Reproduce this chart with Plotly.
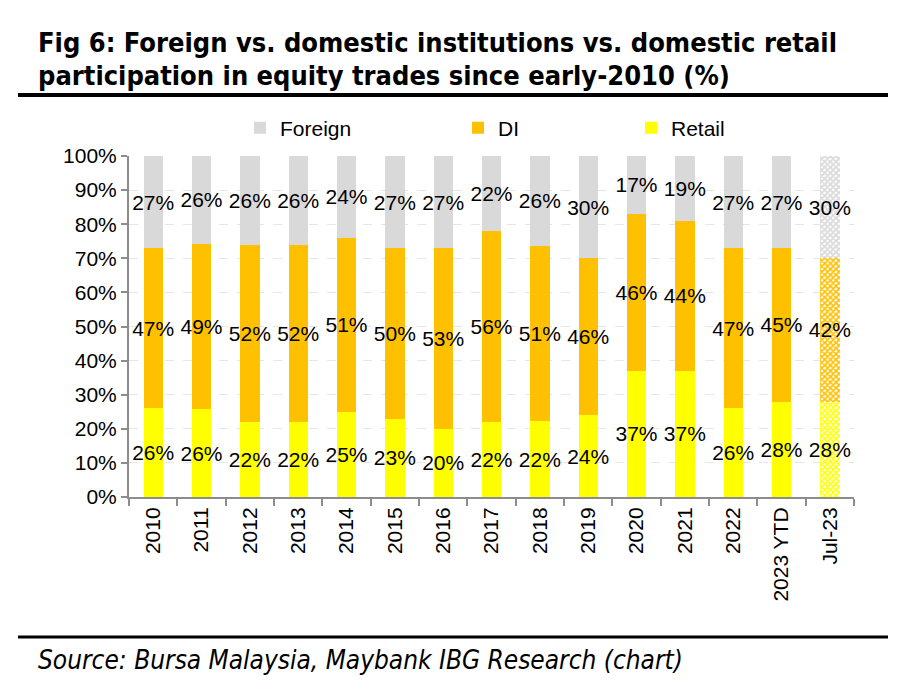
import plotly.graph_objects as go

categories = ["2010", "2011", "2012", "2013", "2014", "2015", "2016", "2017",
              "2018", "2019", "2020", "2021", "2022", "2023 YTD", "Jul-23"]
retail = [26, 26, 22, 22, 25, 23, 20, 22, 22, 24, 37, 37, 26, 28, 28]
di = [47, 49, 52, 52, 51, 50, 53, 56, 51, 46, 46, 44, 47, 45, 42]
foreign = [27, 26, 26, 26, 24, 27, 27, 22, 26, 30, 17, 19, 27, 27, 30]
series_names = ["Retail", "DI", "Foreign"]
series_colors = {"Retail": "#FFFF00", "DI": "#FFC000", "Foreign": "#D9D9D9"}
y_ticks = [0, 10, 20, 30, 40, 50, 60, 70, 80, 90, 100]

W, H = 911, 691
L, R, T, B = 129, 854, 156, 497
SANS = "Liberation Sans, Arial, sans-serif"
TITLEF = "DejaVu Sans Condensed, DejaVu Sans, sans-serif"
FS = 21


def px2x(px):
    return (px - L) / (R - L)


def px2y(py):
    return (B - py) / (B - T)


fig = go.Figure()
values = {"Retail": retail, "DI": di, "Foreign": foreign}
legend_ids = {"Foreign": "legend", "DI": "legend2", "Retail": "legend3"}
n = len(categories)
for name in series_names:
    vals = values[name]
    col = series_colors[name]
    fig.add_trace(go.Bar(
        x=categories, y=vals, name=name,
        text=[f"{v}%" for v in vals],
        textposition="inside", insidetextanchor="middle", textangle=0,
        textfont=dict(family=SANS, size=FS, color="black"),
        width=0.4,
        marker=dict(
            color=col, line=dict(width=0),
            pattern=dict(shape=[""] * (n - 1) + ["x"], fgcolor=col,
                         bgcolor="white", fillmode="replace", size=4, solidity=0.65),
        ),
        legend=legend_ids[name],
    ))

legend_pos = {"legend": 262, "legend2": 480, "legend3": 653}
leg_common = dict(orientation="h", yanchor="middle", xanchor="left",
                  font=dict(family=SANS, size=FS, color="black"),
                  bgcolor="rgba(0,0,0,0)")
layout_legends = {}
for lid, cx in legend_pos.items():
    layout_legends[lid] = dict(x=px2x(cx - 22), y=px2y(128), **leg_common)

fig.update_layout(
    width=W, height=H,
    margin=dict(l=L, r=W - R, t=T, b=H - B),
    barmode="stack", barnorm="percent",
    plot_bgcolor="white", paper_bgcolor="white",
    showlegend=True,
    uniformtext=dict(minsize=FS, mode="show"),
    font=dict(family=SANS, size=FS, color="black"),
    xaxis=dict(
        type="category", tickangle=-90, showline=True, linecolor="#8c8c8c",
        linewidth=2, ticks="outside", tickson="boundaries", ticklen=7,
        tickcolor="#8c8c8c", tickwidth=2,
        tickfont=dict(family=SANS, size=FS, color="black"),
        showgrid=False,
    ),
    yaxis=dict(
        range=[0, 100], tickvals=y_ticks, ticktext=[f"{v}%" for v in y_ticks],
        showline=True, linecolor="#8c8c8c", linewidth=2, ticks="outside",
        ticklen=6, tickcolor="#8c8c8c", tickwidth=2,
        tickfont=dict(family=SANS, size=FS, color="black"),
        showgrid=True, gridcolor="#e6e6e6", griddash="dash", gridwidth=1,
        zeroline=False,
    ),
    **layout_legends,
)

fig.add_annotation(xref="paper", yref="paper", x=px2x(36), y=px2y(42),
                   xanchor="left", yanchor="middle", showarrow=False,
                   text="<b>Fig 6: Foreign vs. domestic institutions vs. domestic retail</b>",
                   font=dict(family=TITLEF, size=27, color="black"))
fig.add_annotation(xref="paper", yref="paper", x=px2x(36), y=px2y(75),
                   xanchor="left", yanchor="middle", showarrow=False,
                   text="<b>participation in equity trades since early-2010 (%)</b>",
                   font=dict(family=TITLEF, size=27, color="black"))
fig.add_annotation(xref="paper", yref="paper", x=px2x(36), y=px2y(660),
                   xanchor="left", yanchor="middle", showarrow=False,
                   text="<i>Source: Bursa Malaysia, Maybank IBG Research (chart)</i>",
                   font=dict(family=TITLEF, size=26, color="black"))
fig.add_shape(type="line", xref="paper", yref="paper",
              x0=px2x(18), x1=px2x(888), y0=px2y(95), y1=px2y(95),
              line=dict(color="black", width=4))
fig.add_shape(type="line", xref="paper", yref="paper",
              x0=px2x(18), x1=px2x(888), y0=px2y(637), y1=px2y(637),
              line=dict(color="black", width=3))

fig.write_html("out.html")
